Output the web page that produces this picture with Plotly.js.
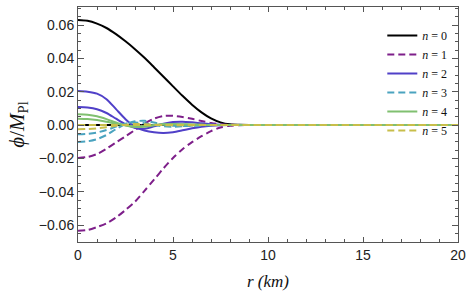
<!DOCTYPE html>
<html>
<head>
<meta charset="utf-8">
<script src="https://cdn.plot.ly/plotly-3.0.1.min.js"></script>
<style>html,body{margin:0;padding:0;background:#fff;}#chart{width:474px;height:302px;}</style>
</head>
<body>
<div id="chart"></div>
<script>
// radius r (km)
const r = [0,0.5,1,1.5,2,2.5,3,3.5,4,4.5,5,5.5,6,6.5,7,7.5,8,8.5,9,10,12,15,20];
// field profiles phi / M_Pl
const phiTrivial = [0,0,0,0,0,0,0,0,0,0,0,0,0,0,0,0,0,0,0,0,0,0,0];
const phiN0  = [0.063,0.0625,0.0608,0.0582,0.0545,0.0502,0.0455,0.0403,0.0347,0.029,0.0232,0.0175,0.0122,0.0076,0.004,0.0016,0.0004,0.0001,0,0,0,0,0];
const phiN1a = [-0.0635,-0.063,-0.0612,-0.059,-0.0555,-0.051,-0.046,-0.0395,-0.0328,-0.026,-0.0198,-0.0145,-0.0103,-0.0067,-0.0037,-0.0015,-0.0004,-0.0001,0,0,0,0,0];
const phiN1b = [-0.0198,-0.0192,-0.0174,-0.0142,-0.0105,-0.0068,-0.003,0.0008,0.0038,0.0054,0.0055,0.0048,0.0037,0.0024,0.0012,0.0004,0.0001,0,0,0,0,0,0];
const phiN2a = [0.0204,0.02,0.0188,0.0155,0.0095,0.0035,-0.0012,-0.0033,-0.0044,-0.0048,-0.0043,-0.0032,-0.002,-0.001,-0.0004,-0.0001,0,0,0,0,0,0,0];
const phiN2b = [0.0108,0.0105,0.0095,0.0072,0.0038,0.0005,-0.0018,-0.0022,-0.0008,0.0008,0.0018,0.002,0.0016,0.001,0.0005,0.0002,0,0,0,0,0,0,0];
const phiN3a = [-0.0102,-0.0098,-0.0085,-0.006,-0.0025,0.0005,0.0022,0.0025,0.0015,0.0003,-0.0005,-0.0006,-0.0005,-0.0003,-0.0001,0,0,0,0,0,0,0,0];
const phiN3b = [-0.0056,-0.0053,-0.0045,-0.003,-0.001,0.0008,0.0015,0.001,0,-0.0008,-0.001,-0.0008,-0.0003,0,0.0001,0,0,0,0,0,0,0,0];
const phiN4a = [0.0064,0.0061,0.0052,0.0035,0.0015,-0.0003,-0.0012,-0.001,-0.0002,0.0004,0.0006,0.0005,0.0003,0.0001,0,0,0,0,0,0,0,0,0];
const phiN4b = [0.0038,0.0036,0.003,0.002,0.0008,-0.0002,-0.0008,-0.0006,0,0.0003,0.0004,0.0003,0.0002,0.0001,0,0,0,0,0,0,0,0,0];
const phiN5a = [-0.0025,-0.0024,-0.002,-0.0013,-0.0005,0.0002,0.0006,0.0005,0.0001,-0.0001,-0.0002,-0.0001,-0.0001,0,0,0,0,0,0,0,0,0,0];
const phiN5b = [0,0,0,0,0,0,0,0,0,0,0,0,0,0,0,0,0,0,0,0,0,0,0];

const legendLabels = ['<i>n</i> = 0','<i>n</i> = 1','<i>n</i> = 2','<i>n</i> = 3','<i>n</i> = 4','<i>n</i> = 5'];
const xTicks = [0,5,10,15,20];
const yTicks = [-0.06,-0.04,-0.02,0,0.02,0.04,0.06];

const colors = ['#000000','#7e1f8a','#5040c8','#4aa3bf','#80c070','#c8be4a'];
const dashes = ['solid','7px,4px','solid','7px,4px','solid','7px,4px'];

function tr(y, n, show){
  return {x:r, y:y, type:'scatter', mode:'lines', name:legendLabels[n], showlegend:show,
    legendgroup:'n'+n,
    line:{color:colors[n], width:2, dash:dashes[n], shape:'spline', smoothing:0.8}};
}

const data = [
  tr(phiTrivial,0,false),
  tr(phiN0,0,true),
  tr(phiN1a,1,true), tr(phiN1b,1,false),
  tr(phiN2a,2,true), tr(phiN2b,2,false),
  tr(phiN3a,3,true), tr(phiN3b,3,false),
  tr(phiN4a,4,true), tr(phiN4b,4,false),
  tr(phiN5a,5,true), tr(phiN5b,5,false)
];

const axisCommon = {
  showgrid:false, zeroline:false, showline:true, mirror:'ticks',
  linecolor:'#555', linewidth:1, ticks:'inside', tickcolor:'#555', tickwidth:1,
  tickfont:{family:'Liberation Sans, Arial, sans-serif', size:14, color:'#222'}
};

const layout = {
  width:474, height:302,
  margin:{l:78, r:16, t:7, b:60},
  paper_bgcolor:'#fff', plot_bgcolor:'#fff',
  xaxis: Object.assign({}, axisCommon, {
    range:[0,20], tickvals:xTicks, ticklen:5,
    minor:{dtick:1, ticks:'inside', ticklen:3, tickcolor:'#555', showgrid:false},
    title:{text:'<i>r (km)</i>', standoff:13, font:{family:'Liberation Serif, Times New Roman, serif', size:17, color:'#111'}}
  }),
  yaxis: Object.assign({}, axisCommon, {
    range:[-0.0702,0.0708], tickvals:yTicks, tickformat:'.2f', ticklen:6,
    minor:{dtick:0.005, ticks:'inside', ticklen:3, tickcolor:'#555', showgrid:false},
    title:{text:'<i>ϕ</i>/<i>M</i><sub>Pl</sub>', standoff:8, font:{family:'Liberation Serif, Times New Roman, serif', size:21, color:'#111'}}
  }),
  showlegend:true,
  legend:{x:0.985, xanchor:'right', y:0.94, yanchor:'top', bgcolor:'rgba(0,0,0,0)',
    borderwidth:0, font:{family:'Liberation Serif, Times New Roman, serif', size:12, color:'#111'},
    tracegroupgap:0, itemwidth:30},
  hovermode:false
};

Plotly.newPlot('chart', data, layout, {staticPlot:true, displayModeBar:false});
</script>
</body>
</html>
